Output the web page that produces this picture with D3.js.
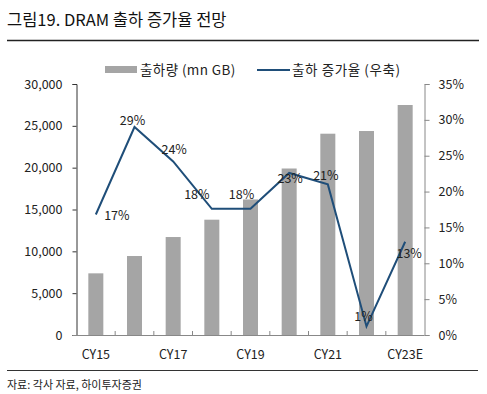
<!DOCTYPE html>
<html><head><meta charset="utf-8">
<script src="https://cdn.jsdelivr.net/npm/d3@7"></script>
<style>
body{margin:0;background:#fff;}
text{font-family:"Noto Sans CJK KR","Noto Sans",sans-serif;}
</style></head><body>
<svg id="c" width="487" height="394"></svg>
<script>
const categories = ["CY15","CY16","CY17","CY18","CY19","CY20","CY21","CY22","CY23E"];
const shipments = [7370, 9440, 11710, 13780, 16200, 19900, 24060, 24380, 27490];
const growth = [16.8, 29.0, 24.2, 17.6, 17.6, 22.6, 21.0, 1.2, 13.0];
const growthLabels = ["17%","29%","24%","18%","18%","23%","21%","1%","13%"];
const leftTicks = [0,5000,10000,15000,20000,25000,30000];
const rightTicks = [0,5,10,15,20,25,30,35];
const xTickLabels = ["CY15","CY17","CY19","CY21","CY23E"];

const svg = d3.select("#c");
const L = 76.5, R = 424.5, T = 84, B = 335;
const xc = d3.scaleBand().domain(categories).range([L, R]);
const y = d3.scaleLinear().domain([0, 30000]).range([B, T]);
const y2 = d3.scaleLinear().domain([0, 35]).range([B, T]);

// title
svg.append("text").attr("x", 7).attr("y", 26).attr("font-size", 16.5).attr("fill", "#111")
  .text("그림19. DRAM 출하 증가율 전망");
svg.append("line").attr("x1", 7).attr("x2", 479).attr("y1", 40.5).attr("y2", 40.5)
  .attr("stroke", "#222").attr("stroke-width", 1.5);

// bars
svg.append("g").selectAll("rect").data(shipments).join("rect")
  .attr("x", (d, i) => xc(categories[i]) + xc.bandwidth()/2 - 7.5)
  .attr("width", 15)
  .attr("y", d => y(d)).attr("height", d => B - y(d))
  .attr("fill", "#a5a5a5");

// left axis
const gl = svg.append("g").attr("transform", `translate(${L},0)`)
  .call(d3.axisLeft(y).tickValues(leftTicks).tickFormat(d3.format(",")).tickSize(4).tickPadding(10));
gl.select(".domain").attr("stroke", "#333");
gl.selectAll(".tick line").attr("stroke", "#333");
gl.selectAll("text").attr("font-size", 12.5).attr("fill", "#222").attr("font-family", "'Noto Sans',sans-serif");

// right axis
const gr = svg.append("g").attr("transform", `translate(${R},0)`)
  .call(d3.axisRight(y2).tickValues(rightTicks).tickFormat(d => d + "%").tickSize(5).tickPadding(9));
gr.select(".domain").attr("stroke", "#888");
gr.selectAll(".tick line").attr("stroke", "#888");
gr.selectAll("text").attr("font-size", 12.5).attr("fill", "#222").attr("font-family", "'Noto Sans',sans-serif");

// bottom axis
const gb = svg.append("g").attr("transform", `translate(0,${B})`);
gb.append("line").attr("x1", L - 4).attr("x2", R).attr("y1", 0.5).attr("y2", 0.5).attr("stroke", "#888");
gb.selectAll("line.t").data(categories.slice(1)).join("line").attr("class", "t")
  .attr("x1", d => xc(d)).attr("x2", d => xc(d)).attr("y1", 0).attr("y2", -4).attr("stroke", "#888");
gb.selectAll("text").data(categories.filter(c => xTickLabels.includes(c))).join("text")
  .attr("x", d => xc(d) + xc.bandwidth()/2).attr("y", 24).attr("text-anchor", "middle")
  .attr("font-size", 12.5).attr("fill", "#222").attr("font-family", "'Noto Sans',sans-serif")
  .text(d => d);

// line
const line = d3.line().x((d, i) => xc(categories[i]) + xc.bandwidth()/2).y(d => y2(d));
svg.append("path").datum(growth).attr("d", line).attr("fill", "none")
  .attr("stroke", "#1f4e79").attr("stroke-width", 2);

// data labels (offset relative to point)
const offs = [[21,1],[-2,-6],[1,-12],[-15,-14],[-9,-14],[1,6],[-2,-9],[-3,-10],[4,12]];
svg.append("g").selectAll("text").data(growthLabels).join("text")
  .attr("x", (d, i) => xc(categories[i]) + xc.bandwidth()/2 + offs[i][0])
  .attr("y", (d, i) => y2(growth[i]) + offs[i][1])
  .attr("dy", "0.35em").attr("text-anchor", "middle")
  .attr("font-size", 12.5).attr("fill", "#222").attr("font-family", "'Noto Sans',sans-serif")
  .text(d => d);

// legend
svg.append("rect").attr("x", 105).attr("y", 66).attr("width", 32).attr("height", 7).attr("fill", "#a5a5a5");
svg.append("text").attr("x", 140).attr("y", 70).attr("dy", "0.35em").attr("font-size", 13.5).attr("letter-spacing", 0.4).attr("fill", "#222")
  .text("출하량 (mn GB)");
svg.append("line").attr("x1", 257).attr("x2", 290).attr("y1", 70).attr("y2", 70).attr("stroke", "#1f4e79").attr("stroke-width", 2);
svg.append("text").attr("x", 292).attr("y", 70).attr("dy", "0.35em").attr("font-size", 13.5).attr("letter-spacing", 0.6).attr("fill", "#222")
  .text("출하 증가율 (우축)");

// footer
svg.append("line").attr("x1", 7).attr("x2", 478).attr("y1", 370.5).attr("y2", 370.5).attr("stroke", "#333").attr("stroke-width", 1);
svg.append("text").attr("x", 7).attr("y", 385).attr("dy", "0.35em").attr("font-size", 11).attr("fill", "#222")
  .text("자료: 각사 자료, 하이투자증권");
</script></body></html>
